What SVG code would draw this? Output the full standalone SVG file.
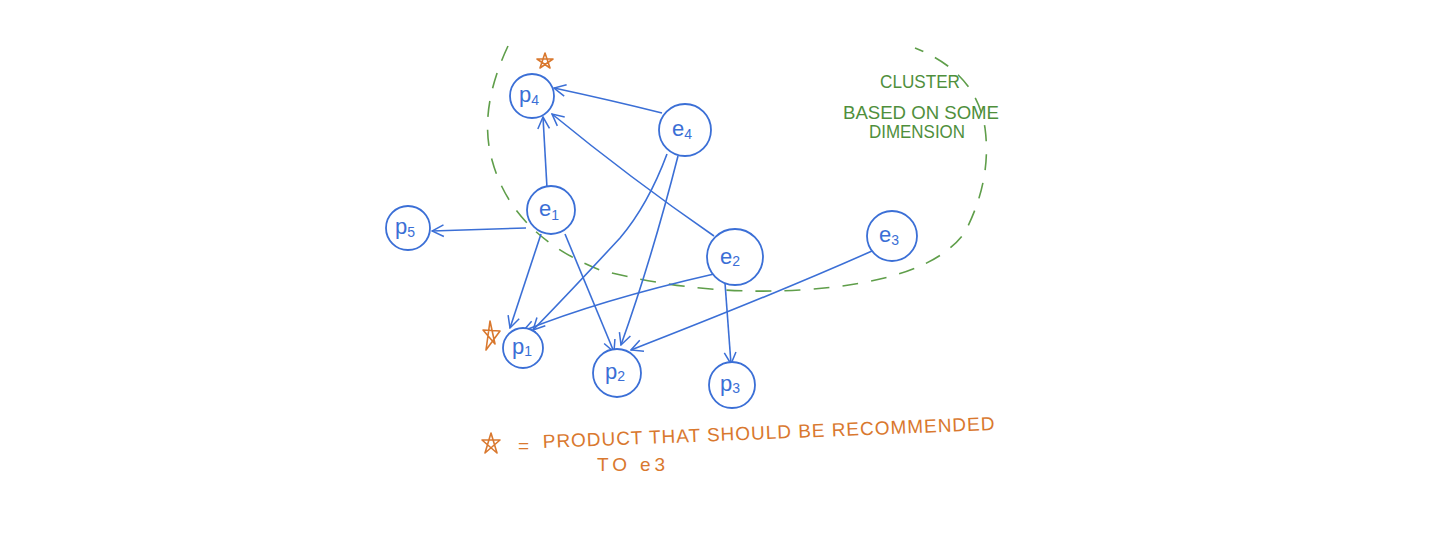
<svg xmlns="http://www.w3.org/2000/svg" width="1438" height="540" viewBox="0 0 1438 540">
<defs>
<style>
.node{fill:#fff;stroke:#3b6fd6;stroke-width:1.8}
.lbl{font-family:"Liberation Sans",Arial,sans-serif;font-size:22px;fill:#3b6fd6}
.sub{font-size:14px}
.edge{fill:none;stroke:#3b6fd6;stroke-width:1.6;marker-end:url(#arr)}
.cluster{fill:none;stroke:#5f9e4a;stroke-width:1.6;stroke-dasharray:16 13}
.gtxt{font-family:"Liberation Sans",Arial,sans-serif;font-size:18px;fill:#4f8f3c}
.otxt{font-family:"Liberation Sans",Arial,sans-serif;font-size:19px;fill:#d9782e}
.star{fill:none;stroke:#d9782e;stroke-width:1.6;stroke-linejoin:round}
</style>
<marker id="arr" viewBox="0 0 12 12" refX="11" refY="6" markerWidth="14" markerHeight="14" markerUnits="userSpaceOnUse" orient="auto">
<path d="M1,1 L11,6 L1,11" fill="none" stroke="#3b6fd6" stroke-width="1.3"/>
</marker>
</defs>
<rect width="1438" height="540" fill="#fff"/>

<path class="cluster" d="M508,46 Q478,110 492,160 Q512,235 600,270 Q700,296 800,290 Q930,282 965,232 Q992,180 985,128 Q976,72 915,48"/>

<g id="connectors">
<path class="edge" d="M662,113 Q610,100 554,88"/>
<path class="edge" d="M547,188 L543,117"/>
<path class="edge" d="M714,236 Q630,178 552,114"/>
<path class="edge" d="M526,228 L432,231"/>
<path class="edge" d="M541,234 L510,328"/>
<path class="edge" d="M565,234 L614,352"/>
<path class="edge" d="M667,154 Q648,205 620,238 Q570,292 533,330"/>
<path class="edge" d="M678,156 Q652,258 621,345"/>
<path class="edge" d="M714,274 Q600,300 523,331"/>
<path class="edge" d="M725,283 L731,364"/>
<path class="edge" d="M872,251 Q780,292 631,350"/>
</g>

<g id="p4"><circle class="node" cx="532" cy="96" r="22"/><text class="lbl" x="519" y="102">p<tspan class="sub" dy="3">4</tspan></text></g>
<g id="e4"><circle class="node" cx="685" cy="130" r="26"/><text class="lbl" x="672" y="136">e<tspan class="sub" dy="3">4</tspan></text></g>
<g id="e1"><circle class="node" cx="551" cy="210" r="24"/><text class="lbl" x="539" y="216">e<tspan class="sub" dy="4">1</tspan></text></g>
<g id="p5"><circle class="node" cx="408" cy="228" r="22"/><text class="lbl" x="395" y="234">p<tspan class="sub" dy="3">5</tspan></text></g>
<g id="e2"><circle class="node" cx="735" cy="257" r="28"/><text class="lbl" x="720" y="264">e<tspan class="sub" dy="2">2</tspan></text></g>
<g id="e3"><circle class="node" cx="892" cy="236" r="25"/><text class="lbl" x="879" y="242">e<tspan class="sub" dy="3">3</tspan></text></g>
<g id="p1"><circle class="node" cx="523" cy="348" r="20"/><text class="lbl" x="512" y="354">p<tspan class="sub" dy="2">1</tspan></text></g>
<g id="p2"><circle class="node" cx="617" cy="373" r="24"/><text class="lbl" x="605" y="379">p<tspan class="sub" dy="2">2</tspan></text></g>
<g id="p3"><circle class="node" cx="732" cy="385" r="23"/><text class="lbl" x="720" y="391">p<tspan class="sub" dy="2">3</tspan></text></g>

<polygon class="star" points="545,53 550,68 537,59 553,59 540,68"/>
<polygon class="star" points="490,321 495,344 483,330 500,331 486,350"/>
<polygon class="star" points="491,433 497,453 482,440 500,440 485,453"/>

<text class="gtxt" x="880" y="88" textLength="80" lengthAdjust="spacingAndGlyphs">CLUSTER</text>
<text class="gtxt" x="843" y="119" textLength="156" lengthAdjust="spacingAndGlyphs">BASED ON SOME</text>
<text class="gtxt" x="869" y="138" textLength="96" lengthAdjust="spacingAndGlyphs">DIMENSION</text>

<text class="otxt" x="518" y="452">=</text>
<text class="otxt" x="543" y="448" transform="rotate(-2.3 543 448)" textLength="452" lengthAdjust="spacing">PRODUCT THAT SHOULD BE RECOMMENDED</text>
<text class="otxt" x="597" y="471" textLength="68" lengthAdjust="spacing">TO e3</text>
</svg>
